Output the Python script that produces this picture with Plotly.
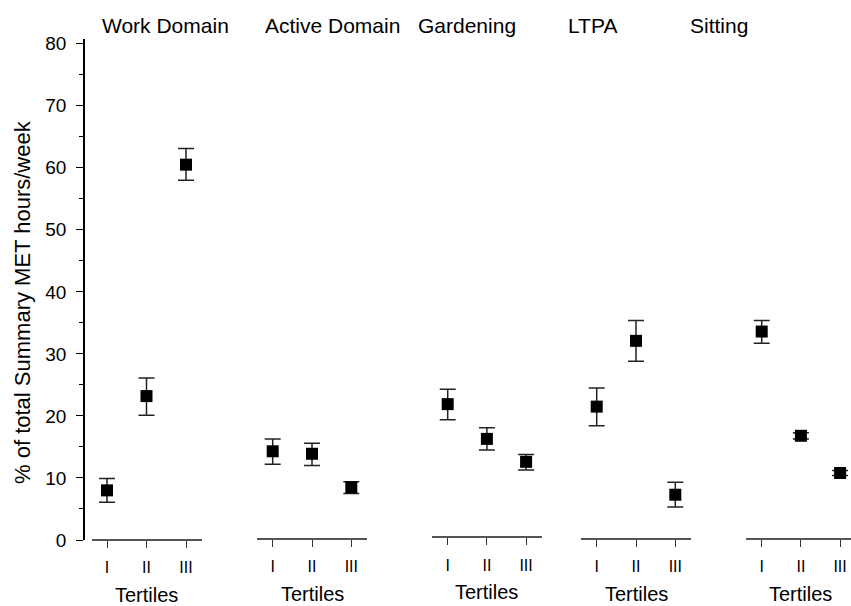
import plotly.graph_objects as go

tertiles = ["I", "II", "III"]
panels = ["Work Domain", "Active Domain", "Gardening", "LTPA", "Sitting"]

work_mean = [8.0, 23.2, 60.5]
work_upper = [9.9, 26.1, 63.1]
work_lower = [6.1, 20.1, 58.0]

active_mean = [14.3, 13.9, 8.5]
active_upper = [16.3, 15.6, 9.4]
active_lower = [12.2, 12.0, 7.5]

garden_mean = [21.9, 16.3, 12.6]
garden_upper = [24.3, 18.1, 13.8]
garden_lower = [19.4, 14.5, 11.3]

ltpa_mean = [21.5, 32.1, 7.3]
ltpa_upper = [24.5, 35.4, 9.3]
ltpa_lower = [18.4, 28.8, 5.3]

sit_mean = [33.6, 16.8, 10.8]
sit_upper = [35.4, 17.3, 11.2]
sit_lower = [31.7, 16.3, 10.4]

y_ticks = [0, 10, 20, 30, 40, 50, 60, 70, 80]

series = [
    (work_mean, work_upper, work_lower),
    (active_mean, active_upper, active_lower),
    (garden_mean, garden_upper, garden_lower),
    (ltpa_mean, ltpa_upper, ltpa_lower),
    (sit_mean, sit_upper, sit_lower),
]

W, H = 851, 606
ML, MR, MT, MB = 84, 0, 39, 66
PW = W - ML - MR
PH = H - MT - MB

# panel pixel extents (left, right, first tick px, tick spacing, baseline px)
panel_px = [
    (92, 202, 107.0, 39.5, 540.0),
    (257, 367, 272.7, 39.3, 538.7),
    (432, 542, 447.7, 39.2, 537.3),
    (581, 691, 596.7, 39.3, 538.7),
    (746, 851, 761.7, 39.2, 538.7),
]
title_left_px = [100, 263, 416, 566, 688]

FONT = "Arial, Liberation Sans, sans-serif"

fig = go.Figure()
layout = dict(
    width=W, height=H,
    margin=dict(l=ML, r=MR, t=MT, b=MB, pad=0, autoexpand=False),
    paper_bgcolor="white", plot_bgcolor="white",
    showlegend=False,
    font=dict(family=FONT, color="black"),
)

ymax = (H - MB - MT) / ((540 - 43.7) / 80.0)
layout["yaxis"] = dict(
    range=[0, ymax], tickvals=y_ticks, ticks="outside", ticklen=7, tickwidth=1.3,
    tickcolor="black", showline=True, linecolor="black", linewidth=1.5,
    showgrid=False, zeroline=False, tickfont=dict(size=19, family=FONT, color="black"),
    ticklabelstandoff=6,
    minor=dict(dtick=5, ticks="outside", ticklen=4, tickcolor="black", tickwidth=1.3, showgrid=False),
    anchor="free", position=0,
)

annotations = []
for i, ((m, up, lo), (l, r, t0, sp, base)) in enumerate(zip(series, panel_px)):
    ax = "" if i == 0 else str(i + 1)
    xname = "xaxis" + ax
    d0 = (l - ML) / PW
    d1 = min((r - ML) / PW, 1.0)
    rmin = (l - t0) / sp
    rmax = (min(r, W) - t0) / sp
    layout[xname] = dict(
        domain=[d0, d1], range=[rmin, rmax], type="category",
        categoryorder="array", categoryarray=tertiles,
        ticks="outside", ticklen=7, tickwidth=1.3, tickcolor="#333",
        showline=True, linecolor="#555", linewidth=2,
        showgrid=False, zeroline=False,
        tickfont=dict(size=16, family=FONT, color="black"), ticklabelstandoff=6,
        anchor="free", position=(540 - base) / PH,
    )
    fig.add_trace(go.Scatter(
        x=tertiles, y=m, mode="markers",
        xaxis="x" + ax, yaxis="y", cliponaxis=False,
        marker=dict(symbol="square", size=12, color="black"),
        error_y=dict(
            type="data", symmetric=False,
            array=[u - v for u, v in zip(up, m)],
            arrayminus=[v - lw for v, lw in zip(m, lo)],
            color="#222", thickness=1.5, width=8,
        ),
    ))
    annotations.append(dict(
        text="Tertiles", xref="x" + ax, x=1, yref="paper", y=0,
        yanchor="middle", yshift=-55 + (540 - base), showarrow=False,
        font=dict(size=20, family=FONT),
    ))
    annotations.append(dict(
        text=panels[i], xref="paper", x=(title_left_px[i] - ML) / PW,
        xanchor="left", yref="paper", y=1, yanchor="middle", yshift=14,
        showarrow=False, font=dict(size=21, family=FONT),
    ))

annotations.append(dict(
    text="% of total Summary MET hours/week", textangle=-90,
    xref="paper", x=0, xshift=-62, xanchor="center",
    yref="paper", y=(540 - 302) / PH, yanchor="middle",
    showarrow=False, font=dict(size=22, family=FONT),
))
layout["annotations"] = annotations

fig.update_layout(**layout)
fig.write_html(
    "out.html",
    config={"displayModeBar": False},
    post_script="document.body.style.margin='0';document.body.style.padding='0';document.body.style.overflow='hidden';",
)
